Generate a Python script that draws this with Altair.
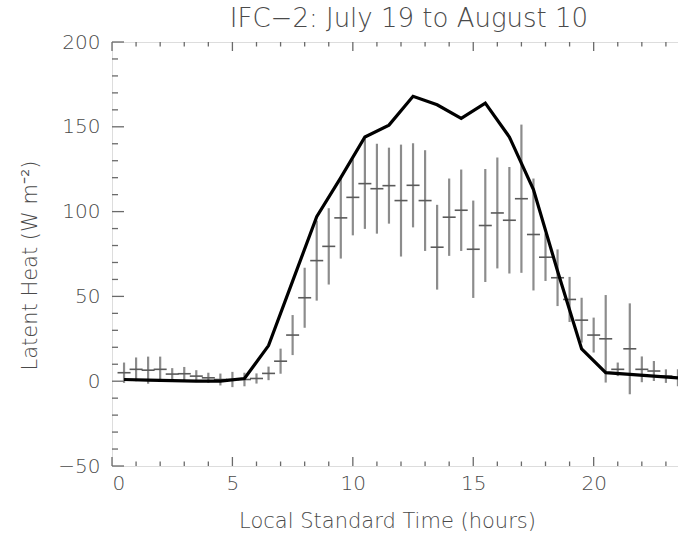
import altair as alt
import pandas as pd

# Observations (crosses): hour, mean latent heat, half error bar
obs_hour = [0.5, 1.0, 1.5, 2.0, 2.5, 3.0, 3.5, 4.0, 4.5, 5.0, 5.5, 6.0, 6.5, 7.0, 7.5, 8.0,
            8.5, 9.0, 9.5, 10.0, 10.5, 11.0, 11.5, 12.0, 12.5, 13.0, 13.5, 14.0, 14.5, 15.0,
            15.5, 16.0, 16.5, 17.0, 17.5, 18.0, 18.5, 19.0, 19.5, 20.0, 20.5, 21.0, 21.5,
            22.0, 22.5, 23.0, 23.5]
obs_mean = [5, 7, 6.5, 7, 4.2, 4.4, 3, 2, 1, 1, 1, 1.6, 4.6, 11.8, 27.2, 49.2,
            71.1, 79.5, 96.3, 108.4, 116.5, 113.5, 115.3, 106.5, 115.5, 106.5, 79, 96.7, 100.8, 77.8,
            91.8, 99.2, 94.9, 107.6, 86.5, 73.1, 61, 48.2, 36, 27.2, 25, 7, 19.1,
            7, 6, 3, 2]
obs_err = [6, 7, 8, 7.5, 3.5, 4, 3.5, 3, 3.5, 4.5, 4, 3, 4, 7.4, 11.8, 17.7,
           23.6, 22.5, 24, 22.4, 26.7, 26.5, 22.4, 33, 24.8, 29.7, 25, 22.8, 24, 28.7,
           33.3, 32.7, 31.4, 43.7, 33, 14, 16.7, 13.3, 13.2, 10.3, 25.8, 4, 26.8,
           7.6, 5.9, 4, 5]

# Model (thick line)
model_hour = [0.5, 1.5, 2.5, 3.5, 4.5, 5.5, 6.5, 7.5, 8.5, 9.5, 10.5, 11.5, 12.5, 13.5,
              14.5, 15.5, 16.5, 17.5, 18.5, 19.5, 20.5, 21.5, 22.5, 23.5]
model_val = [1.0, 0.6, 0.3, 0.0, 0.0, 1.6, 21, 59, 97, 120, 144, 151, 168, 163,
             155, 164, 144, 113, 65, 19, 5, 4, 3, 2]

x_major = [0, 5, 10, 15, 20]
x_minor = [1, 2, 3, 4, 6, 7, 8, 9, 11, 12, 13, 14, 16, 17, 18, 19, 21, 22, 23]
y_major = [-50, 0, 50, 100, 150, 200]
y_minor = [-40, -30, -20, -10, 10, 20, 30, 40, 60, 70, 80, 90, 110, 120, 130, 140,
           160, 170, 180, 190]

W, H = 578, 424
FONT = "DejaVu Sans"
TXT = "#4a4a4a"
AX = "#6a6a6a"

obs = pd.DataFrame({"hour": obs_hour, "mean": obs_mean, "err": obs_err})
model = pd.DataFrame({"hour": model_hour, "val": model_val})

xs = alt.Scale(domain=[0, 24], nice=False, zero=False)
ys = alt.Scale(domain=[-50, 200], nice=False, zero=False)

xaxis = alt.Axis(values=x_major, tickSize=0, domain=False, grid=False, labelFontSize=20,
                 labelFont=FONT, labelFontWeight=200, labelColor=TXT, labelPadding=7,
                 title="Local Standard Time (hours)", titleFont=FONT, titleFontWeight=200,
                 titleFontSize=21, titleColor=TXT, titlePadding=17, titleX=275,
                 format="d")
yaxis = alt.Axis(values=y_major, tickSize=0, domain=False, grid=False, labelFontSize=20,
                 labelFont=FONT, labelFontWeight=200, labelColor=TXT, labelPadding=12,
                 title="Latent Heat (W m⁻²)", titleFont=FONT, titleFontWeight=200,
                 titleFontSize=21, titleColor=TXT, titlePadding=17, titleY=223,
                 format="d")

base_obs = alt.Chart(obs).transform_calculate(
    lo="datum.mean - datum.err", hi="datum.mean + datum.err",
    hl="datum.hour - 0.27", hr="datum.hour + 0.27")

vbars = base_obs.mark_rule(color="#8c8c8c", strokeWidth=2.2).encode(
    x=alt.X("hour:Q", scale=xs, axis=xaxis),
    y=alt.Y("lo:Q", scale=ys, axis=yaxis),
    y2="hi:Q")
hbars = base_obs.mark_rule(color="#5a5a5a", strokeWidth=1.6).encode(
    x=alt.X("hl:Q", scale=xs), x2="hr:Q", y=alt.Y("mean:Q", scale=ys))

line = alt.Chart(model).mark_line(color="black", strokeWidth=3.2, strokeJoin="miter").encode(
    x=alt.X("hour:Q", scale=xs), y=alt.Y("val:Q", scale=ys))

def xticks(vals, length, top):
    d = pd.DataFrame({"t": vals})
    if top:
        return alt.Chart(d).mark_rule(color=AX, strokeWidth=1.3).encode(
            x=alt.X("t:Q", scale=xs), y=alt.value(0), y2=alt.value(length))
    return alt.Chart(d).mark_rule(color=AX, strokeWidth=1.3).encode(
        x=alt.X("t:Q", scale=xs), y=alt.value(H), y2=alt.value(H - length))

def yticks(vals, length, right):
    d = pd.DataFrame({"t": vals})
    if right:
        return alt.Chart(d).mark_rule(color=AX, strokeWidth=1.3).encode(
            y=alt.Y("t:Q", scale=ys), x=alt.value(W), x2=alt.value(W - length))
    return alt.Chart(d).mark_rule(color=AX, strokeWidth=1.3).encode(
        y=alt.Y("t:Q", scale=ys), x=alt.value(0), x2=alt.value(length))

ticks = [xticks(x_major, 9, False), xticks(x_minor, 4.5, False),
         xticks(x_major, 9, True), xticks(x_minor, 4.5, True),
         yticks(y_major, 12, False), yticks(y_minor, 6, False),
         yticks(y_major, 12, True), yticks(y_minor, 6, True)]

chart = alt.layer(vbars, hbars, line, *ticks).properties(
    width=W, height=H,
    title=alt.TitleParams("IFC−2: July 19 to August 10", font=FONT, fontWeight=200,
                          fontSize=26, color=TXT, anchor="middle", dx=8, offset=0),
    autosize="none",
    padding={"left": 112, "top": 42, "right": -12, "bottom": 70},
).configure_view(stroke=AX, strokeWidth=1.5).configure(background="white")

chart.save("out.html", embed_options={"renderer": "svg", "actions": False})
